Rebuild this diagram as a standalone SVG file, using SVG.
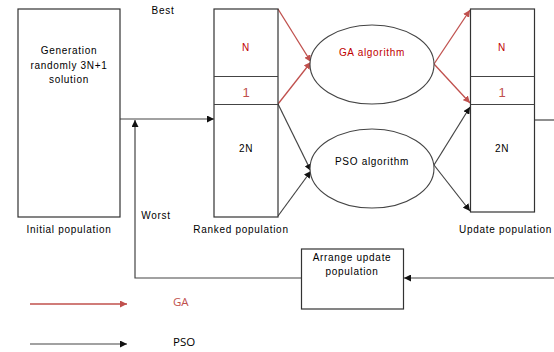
<svg xmlns="http://www.w3.org/2000/svg" width="554" height="352" viewBox="0 0 554 352">
<style>
text{font-family:"Liberation Sans",Arial,sans-serif;font-size:10px;fill:#000;text-anchor:middle;letter-spacing:0.7px}
.box{fill:#fff;stroke:#333;stroke-width:1.2}
.ell{fill:#fff;stroke:#444;stroke-width:1.1}
.red{fill:#c00000}
.big{font-size:13px;fill:#c0504d;letter-spacing:0}
.leg{font-family:"Open Sans","Liberation Sans",sans-serif;font-size:11.5px;text-anchor:start;letter-spacing:0}
.lr{stroke:#c0504d;stroke-width:1.3;fill:none}
.lk{stroke:#444;stroke-width:1.2;fill:none}
</style>
<defs>
<marker id="ar" viewBox="0 0 10 10" refX="10" refY="5" markerWidth="7" markerHeight="7" markerUnits="userSpaceOnUse" orient="auto"><path d="M0,0L10,5L0,10z" fill="#c0504d"/></marker>
<marker id="ak" viewBox="0 0 10 10" refX="10" refY="5" markerWidth="7" markerHeight="7" markerUnits="userSpaceOnUse" orient="auto"><path d="M0,0L10,5L0,10z" fill="#111"/></marker>
</defs>
<g id="connectors">
<path class="lk" d="M120,119H214" marker-end="url(#ak)"/>
<path class="lk" d="M301,278H135V120" marker-end="url(#ak)"/>
<path class="lk" d="M554,278H404" marker-end="url(#ak)"/>
<path class="lk" d="M534,120H554"/>
<path class="lr" d="M278,9L311,62" marker-end="url(#ar)"/>
<path class="lr" d="M278,104L311,62" marker-end="url(#ar)"/>
<path class="lk" d="M278,104L311,171" marker-end="url(#ak)"/>
<path class="lk" d="M278,216L311,171" marker-end="url(#ak)"/>
<path class="lr" d="M434,64L470,10" marker-end="url(#ar)"/>
<path class="lr" d="M434,64L470,103" marker-end="url(#ar)"/>
<path class="lk" d="M434,165L470,107" marker-end="url(#ak)"/>
<path class="lk" d="M434,165L470,211" marker-end="url(#ak)"/>
<path class="lr" d="M30,304H127" marker-end="url(#ar)"/>
<path class="lk" d="M30,344H127" marker-end="url(#ak)"/>
</g>
<g id="initial">
<rect class="box" x="18" y="9" width="102" height="208"/>
<text x="69" y="54">Generation</text>
<text x="69" y="69">randomly 3N+1</text>
<text x="69" y="83">solution</text>
<text x="69" y="233">Initial population</text>
</g>
<g id="ranked">
<rect class="box" x="214" y="9" width="64" height="208"/>
<path class="lk" d="M214,76.5H278M214,104.5H278" stroke="#111"/>
<text class="red" x="246" y="51">N</text>
<text class="big" x="246" y="97">1</text>
<text x="246" y="152">2N</text>
<text x="241" y="233">Ranked population</text>
</g>
<g id="ga">
<ellipse class="ell" cx="372" cy="64.5" rx="62" ry="39.5"/>
<text class="red" x="372" y="56">GA algorithm</text>
</g>
<g id="pso">
<ellipse class="ell" cx="372" cy="168.5" rx="62" ry="39.5"/>
<text x="372" y="165">PSO algorithm</text>
</g>
<g id="update">
<rect class="box" x="470.5" y="9" width="64" height="203"/>
<path class="lk" d="M470.5,76.5H534.5M470.5,104.5H534.5" stroke="#111"/>
<text class="red" x="502" y="51">N</text>
<text class="big" x="502" y="97">1</text>
<text x="502" y="152">2N</text>
<text x="459" y="233" style="text-anchor:start">Update population</text>
</g>
<g id="arrange">
<rect class="box" x="301.5" y="249" width="102" height="60"/>
<text x="352" y="261">Arrange update</text>
<text x="352" y="275">population</text>
</g>
<g id="labels">
<text x="163" y="14">Best</text>
<text x="156" y="219">Worst</text>
<text class="leg" x="173" y="306" style="fill:#c0504d">GA</text>
<text class="leg" x="173" y="346">PSO</text>
</g>
</svg>
